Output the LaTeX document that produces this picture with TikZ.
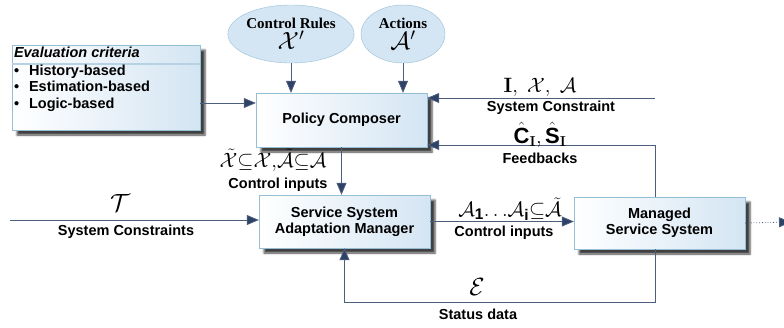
\documentclass[tikz,border=0pt]{standalone}
\usepackage{amsmath}
\usepackage[no-math]{fontspec}
\setmainfont{Liberation Sans}
\newfontfamily\timesfont{Liberation Serif}
\usepackage{xcolor}
\usetikzlibrary{shapes.geometric,shadows.blur,arrows.meta}
\definecolor{PaleBlue}{RGB}{212,229,243}
\definecolor{EdgeBlue}{RGB}{150,190,215}
\definecolor{NavyArrow}{RGB}{45,66,102}

\begin{document}
\begin{tikzpicture}[x=1pt,y=-1pt,
    box/.style={draw=EdgeBlue, left color=white, right color=PaleBlue, minimum width=171pt, minimum height=53pt, align=center, font=\fontsize{14.5}{16}\selectfont\bfseries, blur shadow={shadow xshift=5pt, shadow yshift=-5pt, shadow blur radius=2pt, shadow opacity=75}},
    bubble/.style={ellipse, draw=EdgeBlue, fill=PaleBlue, align=center, inner sep=0pt, font=\timesfont\fontsize{15}{17}\selectfont\bfseries},
    link/.style={draw=NavyArrow!85, line width=0.8pt, -{Triangle[length=12pt, width=10pt, fill=NavyArrow]}},
    lbl/.style={inner sep=1pt, font=\fontsize{14.5}{16}\selectfont\bfseries},
    sym/.style={inner sep=0pt, font=\fontsize{22}{24}\selectfont}]
            \useasboundingbox (0,0) rectangle (784,327);

            % Evaluation criteria
            \node[box, minimum width=188pt, minimum height=85pt] (eval) at (106,87.5) {};
            \coordinate (sep) at (0,64);
            \draw[EdgeBlue!70, line width=1.2pt] (sep -| eval.west) -- (sep -| eval.east);
            \node[anchor=north west, xshift=2pt, yshift=-2pt, align=left, inner sep=0pt, font=\fontsize{14.5}{16.5}\selectfont\bfseries] (evaltext) at (eval.north west) {\textit{Evaluation criteria}\\[1pt] \textbullet\hspace{10pt}History-based\\ \textbullet\hspace{10pt}Estimation-based\\ \textbullet\hspace{10pt}Logic-based};

            % Rules and actions
            \node[bubble, minimum width=116pt, minimum height=58pt] (rules) at (291,34) {Control Rules\\[1pt]{\fontsize{24}{24}\selectfont$\mathcal{X}'$}};
            \node[bubble, minimum width=84pt, minimum height=58pt] (actions) at (403,34) {Actions\\[1pt]{\fontsize{24}{24}\selectfont$\mathcal{A}'$}};

            % Main boxes
            \node[box, minimum height=54pt] (pc) at (341.5,120) {Policy Composer};
            \node[box] (ssam) at (344.5,221.5) {Service System\\Adaptation Manager};
            \node[box, minimum height=52pt] (ms) at (659.5,223) {Managed\\Service System};

            % Inputs of the policy composer
            \coordinate (ev) at (0,103);
            \coordinate (sc) at (655,98);
            \coordinate (fb) at (655,145);
            \draw[link] (rules.south) -- (rules.south |- pc.north);
            \draw[link] (actions.south) -- (actions.south |- pc.north);
            \draw[link] (ev -| eval.east) -- (ev -| pc.west);
            \draw[link] (sc) -- (sc -| pc.east);
            \draw[link] (fb |- ms.north) -- (fb) -- (fb -| pc.east);
            \node[sym] (ixa) at (540,87) {$\mathbf{I},\;\mathcal{X},\;\mathcal{A}$};
            \node[lbl] (sctext) at (551,108) {System Constraint};
            \node[sym] (fbsym) at (540,135) {$\hat{\text{\bfseries C}}_{\mathbf{I}},\hat{\text{\bfseries S}}_{\mathbf{I}}$};
            \node[lbl] (fbtext) at (540,158) {Feedbacks};

            % Control inputs
            \draw[link] (pc.south) -- (pc.south |- ssam.north);
            \node[sym] (cisym) at (273,160) {$\tilde{\mathcal{X}}{\subseteq}\mathcal{X}{,}\tilde{\mathcal{A}}{\subseteq}\mathcal{A}$};
            \node[lbl] (citext) at (278,185) {Control inputs};

            % System constraints
            \coordinate (tin) at (10,220);
            \draw[link] (tin) -- (tin -| ssam.west);
            \node[sym, font=\fontsize{26}{26}\selectfont] (tsym) at (120,203) {$\mathcal{T}$};
            \node[lbl] (ttext) at (126,232) {System Constraints};

            % Adaptation
            \draw[link] (ssam.east) -- (ssam.east -| ms.west);
            \node[sym] (asym) at (510,209) {$\mathcal{A}_{\text{\bfseries 1}}{\ldots}\mathcal{A}_{\text{\bfseries i}}{\subseteq}\tilde{\mathcal{A}}$};
            \node[lbl] (atext) at (504,233) {Control inputs};

            % Output
            \coordinate (out) at (791,222);
            \draw[link, dotted] (ms.east) -- (out);

            % Status data
            \coordinate (st) at (655,302);
            \draw[link] (st |- ms.south) -- (st) -| (ssam.south);
            \node[sym, font=\fontsize{24}{24}\selectfont] (esym) at (477,287) {$\mathcal{E}$};
            \node[lbl] (etext) at (478,314) {Status data};
        \end{tikzpicture}
\end{document}
